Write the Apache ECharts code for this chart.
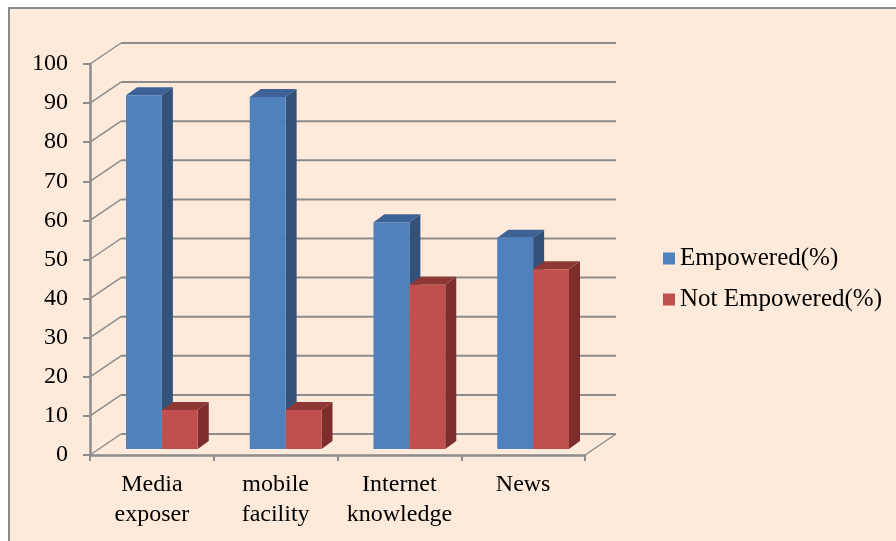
<!DOCTYPE html>
<html>
<head>
<meta charset="utf-8">
<style>
  html, body { margin: 0; padding: 0; background: #ffffff; }
  #chart { width: 896px; height: 541px; }
</style>
<script src="https://cdn.jsdelivr.net/npm/echarts@6/dist/echarts.min.js"></script>
</head>
<body>
<div id="chart"></div>
<script>
// Chart data
const categories = ['Media\nexposer', 'mobile\nfacility', 'Internet\nknowledge', 'News'];
const empowered = [90.5, 90, 58, 54];
const notEmpowered = [10, 10, 42, 46];
const gridValues = [0, 10, 20, 30, 40, 50, 60, 70, 80, 90, 100];
const seriesNames = ['Empowered(%)', 'Not Empowered(%)'];

// Oblique projection used for the walls and the bar blocks
const WALL_DX = 31, WALL_DY = -21;      // back wall offset
const PLANE_DX = 10, PLANE_DY = -6;     // plane in which the bars stand
const BAR_DX = 11, BAR_DY = -8;         // bar depth
const BAR_FRAC = 0.29;                  // bar width as share of a category

const FONT = '"Liberation Serif", "Times New Roman", serif';
const GRID_COLOR = '#8c8c8c';

const palettes = [
  { front: '#4F81BD', side: '#32527A', top: '#3C6296' },
  { front: '#C0504D', side: '#7D2E2C', top: '#8F3734' }
];

function wallItem(params, api) {
  const cs = params.coordSys;
  const v = api.value(1);
  const y = api.coord([0, v])[1];
  const x0 = cs.x, x1 = cs.x + cs.width;
  const children = [
    { type: 'line', shape: { x1: x0, y1: y, x2: x0 + WALL_DX, y2: y + WALL_DY },
      style: { stroke: GRID_COLOR, lineWidth: 1.5 } },
    { type: 'line', shape: { x1: x0 + WALL_DX, y1: y + WALL_DY, x2: x1 + WALL_DX, y2: y + WALL_DY },
      style: { stroke: GRID_COLOR, lineWidth: 2 } }
  ];
  if (v === 0) {
    children.push({ type: 'line',
      shape: { x1: x1, y1: y, x2: x1 + WALL_DX, y2: y + WALL_DY },
      style: { stroke: GRID_COLOR, lineWidth: 1.5 } });
  }
  return { type: 'group', children: children };
}

function barRenderer(slot, pal) {
  return function (params, api) {
    const idx = api.value(0);
    const val = api.value(1);
    const base = api.coord([idx, 0]);
    const top = api.coord([idx, val]);
    const w = api.size([1, 0])[0] * BAR_FRAC;
    const cx = base[0] + PLANE_DX;
    const xl = slot === 0 ? cx - w : cx;
    const xr = xl + w;
    const yb = base[1] + PLANE_DY;
    const yt = top[1] + PLANE_DY;
    return {
      type: 'group',
      children: [
        { type: 'polygon',
          shape: { points: [[xr, yt], [xr + BAR_DX, yt + BAR_DY], [xr + BAR_DX, yb + BAR_DY], [xr, yb]] },
          style: { fill: pal.side } },
        { type: 'polygon',
          shape: { points: [[xl, yt], [xl + BAR_DX, yt + BAR_DY], [xr + BAR_DX, yt + BAR_DY], [xr, yt]] },
          style: { fill: pal.top } },
        { type: 'rect',
          shape: { x: xl, y: yt, width: w, height: yb - yt },
          style: { fill: pal.front } }
      ]
    };
  };
}

const chart = echarts.init(document.getElementById('chart'), null, { renderer: 'canvas' });

chart.setOption({
  animation: false,
  backgroundColor: '#ffffff',
  textStyle: { fontFamily: FONT, color: '#000' },
  graphic: [{
    type: 'rect', z: -10, silent: true,
    shape: { x: 9, y: 8, width: 900, height: 560 },
    style: { fill: '#FDEADA', stroke: '#8a8a8a', lineWidth: 2 }
  }],
  grid: { left: 90, right: 311, top: 64, bottom: 86, containLabel: false },
  legend: {
    orient: 'vertical',
    left: 658,
    top: 241,
    itemWidth: 12,
    itemHeight: 12,
    itemGap: 16,
    icon: 'rect',
    data: seriesNames,
    textStyle: { fontFamily: FONT, fontSize: 25, color: '#000' }
  },
  xAxis: {
    type: 'category',
    data: categories,
    boundaryGap: true,
    axisLine: { show: true, lineStyle: { color: GRID_COLOR, width: 2.5 } },
    axisTick: { show: true, length: 6, alignWithLabel: false, lineStyle: { color: GRID_COLOR, width: 2 } },
    axisLabel: { fontFamily: FONT, fontSize: 24, color: '#000', lineHeight: 30, margin: 15, interval: 0 },
    splitLine: { show: false }
  },
  yAxis: {
    type: 'value',
    min: 0, max: 100, interval: 10,
    axisLine: { show: true, lineStyle: { color: GRID_COLOR, width: 2.5 } },
    axisTick: { show: true, length: 7, lineStyle: { color: GRID_COLOR, width: 2 } },
    axisLabel: { fontFamily: FONT, fontSize: 24, color: '#000', margin: 22 },
    splitLine: { show: false }
  },
  series: [
    {
      type: 'custom', z: 1, silent: true, clip: false,
      data: gridValues.map(v => [0, v]),
      encode: { x: 0, y: 1 },
      renderItem: wallItem
    },
    {
      name: seriesNames[0], type: 'custom', z: 2, clip: false,
      itemStyle: { color: palettes[0].front },
      data: empowered.map((v, i) => [i, v]),
      encode: { x: 0, y: 1 },
      renderItem: barRenderer(0, palettes[0])
    },
    {
      name: seriesNames[1], type: 'custom', z: 3, clip: false,
      itemStyle: { color: palettes[1].front },
      data: notEmpowered.map((v, i) => [i, v]),
      encode: { x: 0, y: 1 },
      renderItem: barRenderer(1, palettes[1])
    }
  ]
});
</script>
</body>
</html>
